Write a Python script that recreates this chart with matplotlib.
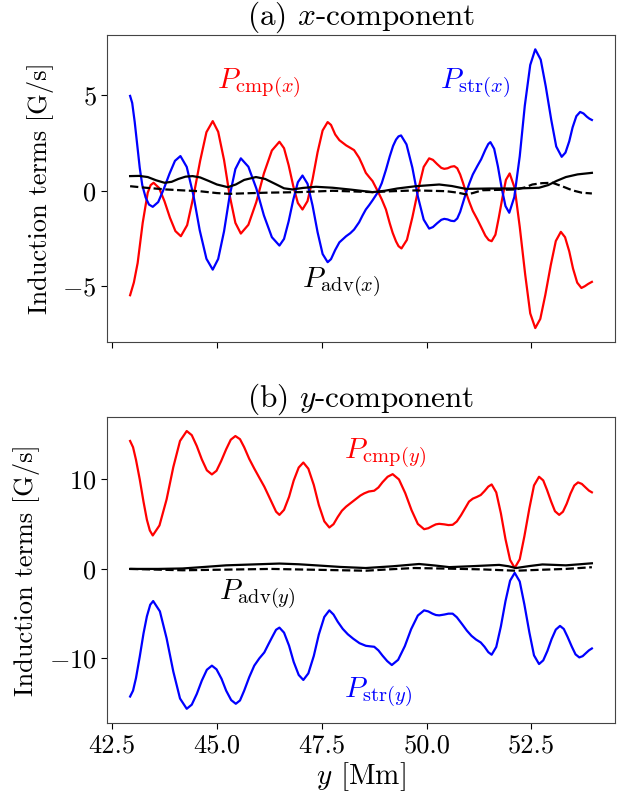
import matplotlib
matplotlib.use("Agg")
import matplotlib.pyplot as plt

plt.rcParams["font.family"] = "serif"
plt.rcParams["font.serif"] = ["cmr10", "DejaVu Serif"]
plt.rcParams["mathtext.fontset"] = "cm"
plt.rcParams["axes.formatter.use_mathtext"] = True
plt.rcParams["axes.unicode_minus"] = True

# ---- (a) x-component ----
x_cmp_x = [42.93, 43.02, 43.11, 43.23, 43.35, 43.42, 43.49, 43.62, 43.75, 43.88, 44.01, 44.14,
           44.29, 44.44, 44.60, 44.75, 44.90, 45.03, 45.17, 45.30, 45.44, 45.57, 45.75, 45.94,
           46.12, 46.31, 46.49, 46.60, 46.71, 46.82, 46.93, 47.04, 47.16, 47.28, 47.40, 47.52,
           47.64, 47.72, 47.82, 47.92, 48.08, 48.18, 48.27, 48.39, 48.47, 48.55, 48.63, 48.71,
           48.83, 48.93, 49.03, 49.12, 49.19, 49.27, 49.33, 49.40, 49.53, 49.66, 49.80, 49.93,
           50.06, 50.15, 50.25, 50.35, 50.42, 50.50, 50.58, 50.66, 50.73, 50.80, 50.87, 50.94,
           51.02, 51.10, 51.21, 51.30, 51.40, 51.48, 51.55, 51.64, 51.72, 51.81, 51.89, 51.98,
           52.10, 52.22, 52.35, 52.47, 52.59, 52.71, 52.83, 52.96, 53.08, 53.20, 53.30, 53.40,
           53.49, 53.59, 53.69, 53.77, 53.85, 53.94]
p_cmp_x = [-5.47, -4.80, -3.78, -1.68, -0.10, 0.30, 0.42, 0.15, -0.55, -1.41, -2.11, -2.38,
           -1.80, -0.30, 1.57, 3.07, 3.65, 3.09, 1.61, -0.20, -1.68, -2.24, -1.78, -0.58,
           0.91, 2.11, 2.57, 2.23, 1.34, 0.25, -0.64, -0.98, -0.54, 0.60, 2.02, 3.16,
           3.60, 3.45, 2.95, 2.65, 2.38, 2.25, 2.13, 1.73, 1.35, 0.94, 0.72, 0.51,
           0.00, -0.45, -0.98, -1.70, -2.20, -2.65, -2.90, -3.02, -2.57, -1.39, 0.07, 1.25,
           1.70, 1.62, 1.40, 1.20, 1.15, 1.18, 1.26, 1.29, 1.18, 0.85, 0.40, -0.10,
           -0.60, -1.05, -1.50, -1.90, -2.35, -2.58, -2.64, -2.30, -1.41, -0.32, 0.57, 0.91,
           0.14, -1.89, -4.39, -6.42, -7.19, -6.71, -5.45, -3.89, -2.63, -2.15, -2.43, -3.17,
           -4.07, -4.81, -5.09, -5.00, -4.88, -4.77]

x_str_x = [42.93, 42.98, 43.04, 43.10, 43.16, 43.22, 43.30, 43.38, 43.47, 43.60, 43.73, 43.87,
           44.00, 44.13, 44.28, 44.44, 44.59, 44.75, 44.90, 45.03, 45.17, 45.30, 45.44, 45.57,
           45.75, 45.94, 46.12, 46.31, 46.49, 46.60, 46.71, 46.82, 46.93, 47.04, 47.16, 47.28,
           47.40, 47.52, 47.64, 47.72, 47.82, 47.92, 48.08, 48.18, 48.27, 48.39, 48.47, 48.55,
           48.63, 48.71, 48.83, 48.93, 49.03, 49.12, 49.20, 49.27, 49.33, 49.39, 49.52, 49.66,
           49.79, 49.93, 50.06, 50.15, 50.25, 50.35, 50.42, 50.50, 50.58, 50.66, 50.73, 50.80,
           50.87, 50.94, 51.02, 51.10, 51.21, 51.30, 51.40, 51.47, 51.52, 51.61, 51.70, 51.79,
           51.88, 51.97, 52.09, 52.22, 52.34, 52.47, 52.59, 52.72, 52.84, 52.97, 53.09, 53.22,
           53.31, 53.40, 53.48, 53.57, 53.66, 53.74, 53.82, 53.88, 53.94]
p_str_x = [4.97, 4.60, 3.60, 2.40, 1.20, 0.30, -0.35, -0.72, -0.84, -0.59, 0.08, 0.90,
           1.57, 1.82, 1.25, -0.24, -2.07, -3.56, -4.13, -3.57, -2.12, -0.31, 1.14, 1.70,
           1.26, 0.12, -1.29, -2.43, -2.87, -2.52, -1.60, -0.47, 0.45, 0.80, 0.37, -0.77,
           -2.17, -3.31, -3.74, -3.58, -3.10, -2.70, -2.38, -2.22, -2.03, -1.65, -1.30, -0.98,
           -0.75, -0.50, -0.10, 0.40, 1.10, 1.80, 2.35, 2.68, 2.85, 2.90, 2.43, 1.21,
           -0.29, -1.51, -1.98, -1.90, -1.70, -1.52, -1.47, -1.50, -1.57, -1.59, -1.45, -1.10,
           -0.60, -0.10, 0.40, 0.85, 1.30, 1.65, 2.15, 2.45, 2.55, 2.20, 1.27, 0.13,
           -0.80, -1.15, -0.33, 1.81, 4.45, 6.59, 7.41, 6.87, 5.47, 3.73, 2.32, 1.78,
           2.00, 2.59, 3.32, 3.91, 4.13, 4.05, 3.88, 3.78, 3.71]

x_adv_x = [42.93, 43.15, 43.35, 43.55, 43.75, 43.92, 44.08, 44.25, 44.42, 44.60, 44.80, 45.00,
           45.26, 45.45, 45.65, 45.93, 46.15, 46.40, 46.60, 46.80, 47.05, 47.36, 47.76, 48.20,
           48.71, 49.00, 49.30, 49.74, 50.30, 50.60, 50.94, 51.50, 52.13, 52.68, 52.90, 53.10,
           53.32, 53.60, 53.94]
p_adv_x = [0.77, 0.78, 0.72, 0.55, 0.42, 0.47, 0.62, 0.74, 0.77, 0.70, 0.52, 0.33,
           0.19, 0.33, 0.57, 0.72, 0.62, 0.35, 0.13, 0.07, 0.15, 0.21, 0.16, 0.06,
           -0.07, 0.00, 0.12, 0.24, 0.33, 0.25, 0.10, 0.12, 0.12, 0.16, 0.30, 0.52,
           0.72, 0.86, 0.94]

x_dash_x = [42.93, 43.30, 43.79, 44.20, 44.58, 45.00, 45.30, 45.70, 46.17, 46.96, 47.76, 48.20,
            48.71, 49.20, 49.74, 50.46, 50.75, 50.94, 51.10, 51.33, 52.13, 52.35, 52.52, 52.75,
            53.00, 53.25, 53.48, 53.70, 53.94]
p_dash_x = [0.24, 0.16, 0.07, 0.02, -0.02, -0.12, -0.16, -0.13, -0.10, -0.07, 0.00, -0.03,
            -0.07, -0.02, 0.02, -0.02, -0.10, -0.19, -0.12, 0.03, 0.07, 0.18, 0.33, 0.40,
            0.42, 0.22, 0.02, -0.10, -0.14]

# ---- (b) y-component ----
x_cmp_y = [42.93, 43.00, 43.07, 43.16, 43.25, 43.33, 43.40, 43.47, 43.63, 43.80, 43.96, 44.12,
           44.28, 44.40, 44.52, 44.64, 44.76, 44.88, 44.99, 45.10, 45.22, 45.33, 45.44, 45.55,
           45.65, 45.77, 45.89, 46.01, 46.13, 46.23, 46.33, 46.41, 46.49, 46.60, 46.72, 46.83,
           46.95, 47.06, 47.18, 47.31, 47.43, 47.56, 47.68, 47.78, 47.88, 47.98, 48.08, 48.20,
           48.31, 48.42, 48.51, 48.62, 48.75, 48.85, 48.95, 49.07, 49.19, 49.34, 49.49, 49.64,
           49.79, 49.94, 50.04, 50.14, 50.22, 50.30, 50.42, 50.52, 50.62, 50.72, 50.82, 50.92,
           51.01, 51.10, 51.20, 51.29, 51.38, 51.47, 51.55, 51.66, 51.77, 51.88, 51.99, 52.10,
           52.22, 52.33, 52.45, 52.56, 52.68, 52.78, 52.87, 52.97, 53.06, 53.16, 53.25, 53.34,
           53.43, 53.52, 53.61, 53.70, 53.79, 53.87, 53.94]
p_cmp_y = [14.30, 13.60, 12.20, 10.00, 7.50, 5.50, 4.30, 3.74, 4.86, 7.77, 11.38, 14.30,
           15.41, 14.95, 13.73, 12.24, 11.02, 10.56, 10.97, 12.04, 13.37, 14.44, 14.85, 14.50,
           13.60, 12.30, 11.22, 10.20, 9.19, 8.20, 7.20, 6.40, 6.04, 6.60, 8.06, 9.87,
           11.33, 11.89, 11.20, 9.38, 7.14, 5.32, 4.63, 5.00, 5.80, 6.50, 6.96, 7.40,
           7.80, 8.20, 8.44, 8.65, 8.74, 9.10, 9.70, 10.30, 10.59, 10.00, 8.47, 6.57,
           5.03, 4.44, 4.55, 4.80, 4.98, 5.04, 4.98, 4.90, 4.93, 5.30, 6.00, 6.80,
           7.52, 7.85, 8.05, 8.26, 8.70, 9.20, 9.44, 8.55, 6.22, 3.33, 1.00, 0.11,
           1.08, 3.63, 6.78, 9.33, 10.30, 9.89, 8.83, 7.51, 6.45, 6.04, 6.39, 7.29,
           8.42, 9.32, 9.67, 9.50, 9.10, 8.75, 8.56]

x_str_y = [42.93, 43.00, 43.07, 43.16, 43.25, 43.33, 43.41, 43.48, 43.64, 43.80, 43.96, 44.12,
           44.28, 44.40, 44.52, 44.64, 44.76, 44.88, 44.99, 45.11, 45.22, 45.34, 45.45, 45.55,
           45.65, 45.77, 45.89, 46.01, 46.13, 46.23, 46.33, 46.41, 46.49, 46.60, 46.72, 46.83,
           46.95, 47.06, 47.18, 47.31, 47.43, 47.56, 47.68, 47.78, 47.88, 48.00, 48.12, 48.25,
           48.40, 48.55, 48.65, 48.75, 48.85, 48.95, 49.06, 49.17, 49.32, 49.48, 49.63, 49.79,
           49.94, 50.04, 50.14, 50.22, 50.30, 50.42, 50.52, 50.62, 50.72, 50.85, 50.96, 51.07,
           51.18, 51.29, 51.38, 51.47, 51.55, 51.66, 51.77, 51.88, 51.99, 52.10, 52.22, 52.33,
           52.45, 52.56, 52.68, 52.78, 52.88, 52.98, 53.08, 53.18, 53.27, 53.36, 53.46, 53.55,
           53.64, 53.72, 53.80, 53.87, 53.94]
p_str_y = [-14.26, -13.60, -12.20, -9.80, -7.20, -5.30, -4.00, -3.59, -4.74, -7.75, -11.47, -14.48,
           -15.63, -15.17, -13.97, -12.48, -11.27, -10.81, -11.22, -12.28, -13.60, -14.66, -15.07, -14.70,
           -13.60, -12.10, -10.81, -10.00, -9.33, -8.40, -7.50, -6.80, -6.56, -7.12, -8.58, -10.39,
           -11.85, -12.41, -11.67, -9.72, -7.32, -5.37, -4.63, -5.10, -5.90, -6.70, -7.30, -7.80,
           -8.30, -8.59, -8.65, -8.70, -9.10, -9.70, -10.30, -10.74, -10.16, -8.63, -6.74, -5.21,
           -4.63, -4.75, -5.00, -5.15, -5.19, -5.10, -5.00, -5.00, -5.40, -6.20, -6.90, -7.48,
           -7.90, -8.22, -8.70, -9.30, -9.59, -8.72, -6.43, -3.60, -1.31, -0.44, -1.41, -3.96,
           -7.11, -9.66, -10.63, -10.22, -9.16, -7.84, -6.78, -6.37, -6.71, -7.59, -8.67, -9.55,
           -9.89, -9.75, -9.40, -9.10, -8.89]

x_adv_y = [42.93, 43.60, 44.18, 44.70, 45.22, 45.85, 46.49, 46.95, 47.36, 47.95, 48.55, 49.20,
           49.82, 50.20, 50.54, 51.15, 51.73, 51.95, 52.13, 52.45, 52.76, 53.05, 53.32, 53.65,
           53.94]
p_adv_y = [0.00, 0.00, 0.05, 0.22, 0.40, 0.50, 0.60, 0.52, 0.40, 0.22, 0.10, 0.30,
           0.55, 0.38, 0.20, 0.32, 0.45, 0.30, 0.10, 0.32, 0.50, 0.45, 0.40, 0.52,
           0.63]

x_dash_y = [42.93, 43.50, 44.18, 45.20, 46.29, 47.40, 48.55, 49.10, 49.70, 50.54, 51.30, 52.13,
            52.70, 53.32, 53.94]
p_dash_y = [0.00, -0.07, -0.15, -0.08, 0.00, -0.10, -0.20, -0.05, 0.10, 0.03, -0.05, -0.20,
            -0.10, 0.00, 0.19]

fig = plt.figure(figsize=(6.31, 8.0), dpi=100)
ax1 = fig.add_axes([0.1696, 0.5725, 0.805, 0.3835])
ax2 = fig.add_axes([0.1696, 0.0959, 0.805, 0.3831], sharex=ax1)

lw = 1.6
ax1.plot(x_cmp_x, p_cmp_x, color="red", lw=lw)
ax1.plot(x_str_x, p_str_x, color="blue", lw=lw)
ax1.plot(x_adv_x, p_adv_x, color="black", lw=lw)
ax1.plot(x_dash_x, p_dash_x, color="black", lw=lw, ls="--")

ax2.plot(x_cmp_y, p_cmp_y, color="red", lw=lw)
ax2.plot(x_str_y, p_str_y, color="blue", lw=lw)
ax2.plot(x_adv_y, p_adv_y, color="black", lw=lw)
ax2.plot(x_dash_y, p_dash_y, color="black", lw=lw, ls="--")

fs_lab = 21
ax1.text(46.0, 5.6, r"$P_{\rm cmp(\mathit{x})}$", color="red", fontsize=fs_lab, ha="center", va="center")
ax1.text(51.15, 5.6, r"$P_{\rm str(\mathit{x})}$", color="blue", fontsize=fs_lab, ha="center", va="center")
ax1.text(47.96, -4.8, r"$P_{\rm adv(\mathit{x})}$", color="black", fontsize=fs_lab, ha="center", va="center")

ax2.text(49.0, 12.9, r"$P_{\rm cmp(\mathit{y})}$", color="red", fontsize=fs_lab, ha="center", va="center")
ax2.text(45.97, -2.85, r"$P_{\rm adv(\mathit{y})}$", color="black", fontsize=fs_lab, ha="center", va="center")
ax2.text(48.85, -13.8, r"$P_{\rm str(\mathit{y})}$", color="blue", fontsize=fs_lab, ha="center", va="center")

ax1.set_title(r"(a) $x$-component", fontsize=22.5, pad=0)
ax2.set_title(r"(b) $y$-component", fontsize=22.5, pad=0)

ax1.set_ylim(-7.92, 8.15)
ax2.set_ylim(-17.25, 17.0)
ax1.set_yticks([-5, 0, 5])
ax2.set_yticks([-10, 0, 10])
ax2.set_xticks([42.5, 45.0, 47.5, 50.0, 52.5])
ax2.set_xticklabels(["42.5", "45.0", "47.5", "50.0", "52.5"])
ax1.tick_params(labelbottom=False)

for ax in (ax1, ax2):
    ax.tick_params(labelsize=19, direction="out", length=4)
    ax.set_ylabel("Induction terms [G/s]", fontsize=19, labelpad=6)
    for s in ax.spines.values():
        s.set_color("#444444")

ax2.set_xlabel(r"$y$ [Mm]", fontsize=21, labelpad=2)
fig.align_ylabels([ax1, ax2])

fig.savefig("out.png", dpi=100)
